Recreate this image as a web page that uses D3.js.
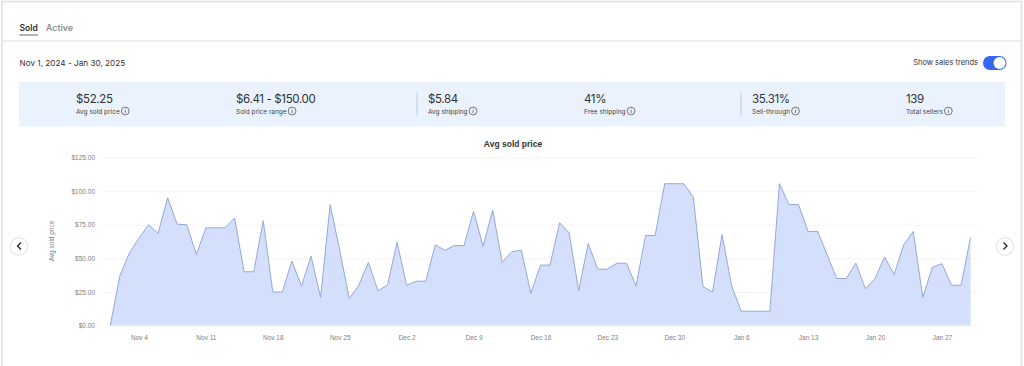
<!DOCTYPE html>
<html>
  <head>
    <title>Avg sold price</title>
    <meta charset="utf-8" />
    <script src="https://cdnjs.cloudflare.com/ajax/libs/d3/7.6.1/d3.min.js"></script>
    <style>
      html, body { margin: 0; padding: 0; background: #fff; overflow: hidden; }
      svg { display: block; }
      .ui { font-family: Inter, "Open Sans", sans-serif; fill: #2f3236; }
      .chart-text { font-family: "Liberation Sans", Arial, sans-serif; }
      .axis text { fill: #808080; font-size: 6.5px; font-family: "Liberation Sans", Arial, sans-serif; }
      .axis path { display: none; }
      .axis--x line { stroke: #eee; }
      .axis--y line { stroke: #f6f4ee; }
    </style>
  </head>
  <body>
    <svg width="1024" height="366"></svg>
  </body>
  <script>
    // one value per day, Nov 1 2024 to Jan 30 2025
    const avgSoldPrice = [
      0, 37, 54, 65, 75, 68.7, 95, 75.4, 75, 53, 72.7, 72.7, 72.7, 80, 40, 40, 78, 25, 25, 48,
      29.5, 51.6, 21, 90, 56, 20, 30, 47, 26, 30, 62, 30, 33, 33, 60, 56, 59.5, 59.5, 85, 59,
      86, 47, 55, 56, 24, 45, 45, 76.5, 69, 26, 61, 42, 42, 46.4, 46.4, 29.5, 67, 67, 105.5, 105.5,
      105.5, 95.3, 29, 25, 67.7, 29.5, 10.7, 10.7, 10.7, 10.7, 105.5, 90, 90, 70, 70, 52.6, 35, 35, 46.4, 27.3,
      35, 51, 38, 60, 70, 21, 43.4, 46, 30, 30, 65.7
    ];
    const firstDay = "2024-11-01";
    const lastDay = "2025-01-30";
    const xTicks = ["2024-11-04", "2024-11-11", "2024-11-18", "2024-11-25", "2024-12-02", "2024-12-09",
      "2024-12-16", "2024-12-23", "2024-12-30", "2025-01-06", "2025-01-13", "2025-01-20", "2025-01-27"];
    const yTicks = [0, 25, 50, 75, 100, 125];

    const statValues = ["$52.25", "$6.41 - $150.00", "$5.84", "41%", "35.31%", "139"];
    const statLabels = ["Avg sold price", "Sold price range", "Avg shipping", "Free shipping", "Sell-through", "Total sellers"];
    const statX = [76, 236, 428, 584, 752, 906];
    const dividerX = [417, 741];

    const svg = d3.select("svg");
    const parseDay = d3.utcParse("%Y-%m-%d");
    const days = d3.utcDay.range(parseDay(firstDay), d3.utcDay.offset(parseDay(lastDay), 1));

    // page frame and tabs
    svg.append("path").attr("d", "M2,366V1.5H1021.5V366").attr("fill", "none").attr("stroke", "#dedede").attr("stroke-width", 1.5);
    svg.append("line").attr("x1", 2).attr("x2", 1021).attr("y1", 41).attr("y2", 41).attr("stroke", "#dcdcdc").attr("stroke-width", 1);
    svg.append("text").attr("class", "ui").attr("x", 19.5).attr("y", 31).attr("font-size", 8.5).attr("font-weight", 600).text("Sold");
    svg.append("text").attr("class", "ui").attr("x", 46).attr("y", 31).attr("font-size", 9).attr("font-weight", 500).style("fill", "#808080").text("Active");
    svg.append("line").attr("x1", 19.5).attr("x2", 38).attr("y1", 35).attr("y2", 35).attr("stroke", "#666").attr("stroke-width", 1);

    svg.append("text").attr("class", "ui").attr("x", 19.5).attr("y", 66).attr("font-size", 8.2).text("Nov 1, 2024 - Jan 30, 2025");

    // toggle
    svg.append("text").attr("class", "ui").attr("x", 978).attr("y", 65).attr("text-anchor", "end").attr("font-size", 7.5).text("Show sales trends");
    svg.append("rect").attr("x", 983).attr("y", 56).attr("width", 23.5).attr("height", 14).attr("rx", 7).attr("fill", "#3665f3");
    svg.append("circle").attr("cx", 999.5).attr("cy", 63).attr("r", 6).attr("fill", "#fff");

    // summary strip
    svg.append("rect").attr("x", 19).attr("y", 82).attr("width", 986).attr("height", 44.5).attr("fill", "#eaf3fd");
    svg.selectAll(".divider").data(dividerX).enter().append("line").attr("class", "divider")
      .attr("x1", (d) => d).attr("x2", (d) => d).attr("y1", 92).attr("y2", 116).attr("stroke", "#c3ccd6");

    const stats = svg.selectAll(".stat").data(statValues).enter().append("g").attr("class", "stat")
      .attr("transform", (d, i) => `translate(${statX[i]},0)`);
    stats.append("text").attr("class", "ui").attr("y", 102.5).attr("font-size", 11.5).attr("letter-spacing", -0.35).text((d) => d);
    const statText = stats.append("text").attr("class", "ui").attr("y", 113.5).attr("font-size", 6.5).style("fill", "#444").text((d, i) => statLabels[i]);
    stats.each(function (d, i) {
      const cx = statText.nodes()[i].getComputedTextLength() + 5.5;
      const g = d3.select(this);
      g.append("circle").attr("cx", cx).attr("cy", 111).attr("r", 3.9).attr("fill", "none").attr("stroke", "#444").attr("stroke-width", 0.7);
      g.append("line").attr("x1", cx).attr("x2", cx).attr("y1", 110.2).attr("y2", 113).attr("stroke", "#444").attr("stroke-width", 0.7);
      g.append("circle").attr("cx", cx).attr("cy", 109).attr("r", 0.4).attr("fill", "#444");
    });

    // chart
    const x = d3.scaleUtc().domain([parseDay(firstDay), parseDay(lastDay)]).range([110.3, 970.6]);
    const y = d3.scaleLinear().domain([0, 125]).range([325.6, 157.5]);

    svg.append("text").attr("class", "chart-text").attr("x", 513).attr("y", 147).attr("text-anchor", "middle")
      .attr("font-size", 8.5).attr("font-weight", 700).attr("fill", "#333").text("Avg sold price");

    svg.append("g").attr("class", "axis axis--y").attr("transform", "translate(101,0)")
      .call(d3.axisLeft(y).tickValues(yTicks).tickSize(-877).tickPadding(6).tickFormat((d) => "$" + d3.format(".2f")(d)));

    svg.append("g").attr("class", "axis axis--x").attr("transform", "translate(0,325.6)")
      .call(d3.axisBottom(x).tickValues(xTicks.map(parseDay)).tickSize(0).tickPadding(10).tickFormat(d3.utcFormat("%b %-d")));

    svg.append("text").attr("class", "chart-text").attr("transform", "translate(54,241) rotate(-90)").attr("text-anchor", "middle")
      .attr("font-size", 6.5).attr("fill", "#808080").text("Avg sold price");

    const area = d3.area().x((d, i) => x(days[i])).y0(y(0)).y1((d) => y(d));
    const line = d3.line().x((d, i) => x(days[i])).y((d) => y(d));
    svg.append("path").datum(avgSoldPrice).attr("d", area).attr("fill", "#d4e0fb");
    svg.append("path").datum(avgSoldPrice).attr("d", line).attr("fill", "none").attr("stroke", "#94a7da").attr("stroke-width", 1);

    // carousel arrows
    const arrows = [[19, "M21,242.5L17.5,246L21,249.5"], [1005, "M1003.5,242.5L1007,246L1003.5,249.5"]];
    arrows.forEach(([cx, d]) => {
      svg.append("circle").attr("cx", cx).attr("cy", 246.5).attr("r", 8.2).attr("fill", "#fff")
        .style("filter", "drop-shadow(0 0.5px 1px rgba(0,0,0,0.3))");
      svg.append("path").attr("d", d).attr("fill", "none").attr("stroke", "#222").attr("stroke-width", 1.3);
    });
  </script>
</html>
